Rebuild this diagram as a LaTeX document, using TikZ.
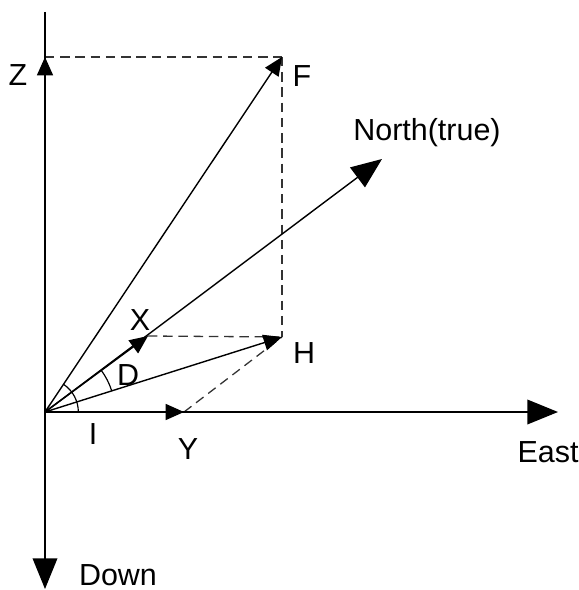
\documentclass[tikz,border=0pt]{standalone}
\usepackage{fontspec}
\setmainfont{Liberation Sans}
\usetikzlibrary{arrows.meta,angles}

\begin{document}
\begin{tikzpicture}[
    x=0.03cm, y=-0.03cm,
    vec/.style={draw, line width=1.2pt, -{Triangle[length=0.55cm, width=0.48cm]}},
    bigvec/.style={draw, line width=1.2pt, -{Triangle[length=0.92cm, width=0.74cm]}},
    guide/.style={draw, line width=1.1pt, black!80, dash pattern=on 8pt off 5pt},
    arcmark/.style={draw, line width=1pt},
    lbl/.style={font=\fontsize{26}{30}\selectfont, inner sep=0pt}
]
\useasboundingbox (0,0) rectangle (578,590);

\coordinate (O) at (45,412);
\coordinate (top) at (45,12);
\coordinate (down) at (45,589);
\coordinate (east) at (558,412);
\coordinate (north) at (382,159);
\coordinate (zvec) at (45,57);
\coordinate (fvec) at (282,57);
\coordinate (hvec) at (282,337);
\coordinate (xvec) at (148,336);
\coordinate (yvec) at (184,412);

\draw[guide] (zvec) -- (fvec);
\draw[guide] (fvec) -- (hvec);
\draw[guide] (xvec) -- (hvec);
\draw[guide] (yvec) -- (hvec);

\draw[bigvec] (top) -- (down);
\draw[bigvec] (O) -- (east);
\draw[bigvec] (O) -- (north);
\draw[vec] (O) -- (zvec);
\draw[vec] (O) -- (fvec);
\draw[vec] (O) -- (hvec);
\draw[vec] (O) -- (xvec);
\draw[vec] (O) -- (yvec);

\pic[arcmark, angle radius=2.1cm] {angle=hvec--O--north};
\pic[arcmark, angle radius=1cm] {angle=east--O--fvec};

\node[lbl] (zlbl) at (18,75) {Z};
\node[lbl] (flbl) at (302,76) {F};
\node[lbl] (nlbl) at (427,133) {North(true)};
\node[lbl] (xlbl) at (140,320) {X};
\node[lbl] (dlbl) at (128,375) {D};
\node[lbl] (hlbl) at (304,353) {H};
\node[lbl] (ilbl) at (93,434) {I};
\node[lbl] (ylbl) at (188,449) {Y};
\node[lbl] (elbl) at (548,452) {East};
\node[lbl] (dnlbl) at (118,575) {Down};
\end{tikzpicture}
\end{document}
